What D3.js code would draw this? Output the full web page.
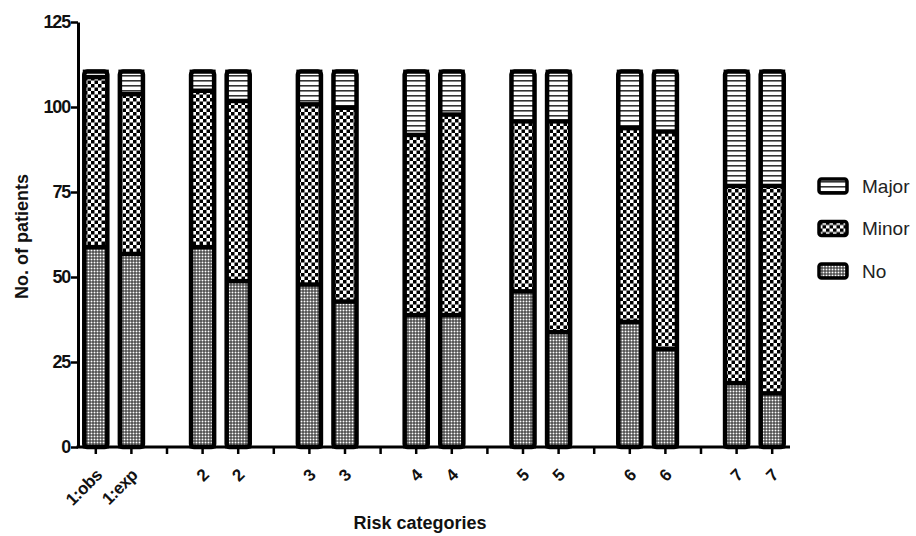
<!DOCTYPE html>
<html>
<head>
<meta charset="utf-8">
<script src="https://cdn.jsdelivr.net/npm/d3@7"></script>
<style>
  body { margin: 0; background: #fff; }
  svg { font-family: "Liberation Sans", Arial, sans-serif; }
</style>
</head>
<body>
<svg id="chart" width="916" height="536"></svg>
<script>
// values (all bars total 111 patients)
const labels = ["1:obs", "1:exp", "2", "2", "3", "3", "4", "4", "5", "5", "6", "6", "7", "7"];
const noValues = [59, 57, 59, 49, 48, 43, 39, 39, 46, 34, 37, 29, 19, 16];
const minorValues = [50, 47, 46, 53, 53, 57, 53, 59, 50, 62, 57, 64, 58, 61];
const majorValues = [2, 7, 6, 9, 10, 11, 19, 13, 15, 15, 17, 18, 34, 34];
const seriesNames = ["No", "Minor", "Major"];
const yTicks = [0, 25, 50, 75, 100, 125];

const svg = d3.select("#chart");
const plotLeft = 78, plotRight = 790, plotTop = 22, plotBottom = 447;

// 2 bars per category, one empty slot between pairs
const slots = d3.range(20).map(i => "s" + i);
const slotOf = i => "s" + (i + Math.floor(i / 2));

const x = d3.scaleBand().domain(slots).range([plotLeft, plotRight]).paddingInner(0.24).paddingOuter(0.12);
const y = d3.scaleLinear().domain([0, 125]).range([plotBottom, plotTop]);

// patterns
const defs = svg.append("defs");
const pMajor = defs.append("pattern").attr("id", "p-major")
  .attr("patternUnits", "userSpaceOnUse").attr("width", 6).attr("height", 5);
pMajor.append("rect").attr("width", 6).attr("height", 5).attr("fill", "#fff");
pMajor.append("rect").attr("y", 0).attr("width", 6).attr("height", 1.6).attr("fill", "#333");

const pMinor = defs.append("pattern").attr("id", "p-minor")
  .attr("patternUnits", "userSpaceOnUse").attr("width", 7).attr("height", 7);
pMinor.append("rect").attr("width", 7).attr("height", 7).attr("fill", "#fff");
pMinor.append("rect").attr("width", 3.5).attr("height", 3.5).attr("fill", "#000");
pMinor.append("rect").attr("x", 3.5).attr("y", 3.5).attr("width", 3.5).attr("height", 3.5).attr("fill", "#000");

const pNo = defs.append("pattern").attr("id", "p-no")
  .attr("patternUnits", "userSpaceOnUse").attr("width", 3).attr("height", 3);
pNo.append("rect").attr("width", 3).attr("height", 3).attr("fill", "#222");
pNo.append("rect").attr("x", 0.5).attr("y", 0.5).attr("width", 2).attr("height", 2).attr("fill", "#fff");

const fills = { No: "url(#p-no)", Minor: "url(#p-minor)", Major: "url(#p-major)" };

const rows = labels.map((l, i) => ({ key: slotOf(i), label: l, No: noValues[i], Minor: minorValues[i], Major: majorValues[i] }));
const stacked = d3.stack().keys(seriesNames)(rows);

const bw = x.bandwidth();

svg.append("g").selectAll("g")
  .data(stacked)
  .join("g")
  .attr("fill", d => fills[d.key])
  .selectAll("rect")
  .data(d => d)
  .join("rect")
  .attr("x", d => x(d.data.key) + 2)
  .attr("y", d => y(d[1]) + 1.5)
  .attr("width", bw - 4)
  .attr("height", d => Math.max(0, y(d[0]) - y(d[1]) - 1.5))
  .attr("stroke", "#000")
  .attr("stroke-width", 3);

// thick outline around each bar
svg.append("g").selectAll("rect")
  .data(rows)
  .join("rect")
  .attr("x", d => x(d.key) + 2)
  .attr("y", d => y(d.No + d.Minor + d.Major) + 2)
  .attr("width", bw - 4)
  .attr("height", d => y(0) - y(d.No + d.Minor + d.Major) - 2)
  .attr("rx", 3)
  .attr("fill", "none")
  .attr("stroke", "#000")
  .attr("stroke-width", 4.5);

// y axis
const yAxis = svg.append("g").attr("transform", `translate(${plotLeft},0)`)
  .call(d3.axisLeft(y).tickValues(yTicks).tickSize(7).tickPadding(1).tickSizeOuter(0));
yAxis.select(".domain").attr("stroke-width", 3);
yAxis.selectAll(".tick line").attr("stroke-width", 2.5);
yAxis.selectAll("text").attr("font-size", 18).attr("font-weight", "bold")
  .attr("fill", "#111").attr("font-family", "Liberation Sans, Arial, sans-serif")
  .attr("letter-spacing", -1.2);

// x axis
const xAxis = svg.append("g").attr("transform", `translate(0,${plotBottom})`)
  .call(d3.axisBottom(x).tickSize(7).tickSizeOuter(0).tickFormat(""));
xAxis.select(".domain").attr("stroke-width", 3)
  .attr("d", `M${plotLeft - 1.5},0H${plotRight}`);
xAxis.selectAll(".tick line").attr("stroke-width", 2.5).attr("y1", 1);

svg.append("g").selectAll("text")
  .data(rows)
  .join("text")
  .attr("transform", d => `translate(${x(d.key) + bw / 2 + 3},${plotBottom + 25}) rotate(-45)`)
  .attr("text-anchor", "end")
  .attr("dy", "0.35em")
  .attr("font-size", 17)
  .attr("font-weight", "bold")
  .attr("letter-spacing", -0.5)
  .attr("fill", "#111")
  .text(d => d.label);

// axis titles
svg.append("text")
  .attr("transform", `translate(28,${(plotTop + plotBottom) / 2 + 2}) rotate(-90)`)
  .attr("text-anchor", "middle")
  .attr("font-size", 18)
  .attr("font-weight", "bold")
  .attr("fill", "#111")
  .text("No. of patients");

svg.append("text")
  .attr("x", 420)
  .attr("y", 529)
  .attr("text-anchor", "middle")
  .attr("font-size", 18)
  .attr("font-weight", "bold")
  .attr("fill", "#111")
  .text("Risk categories");

// legend
const legend = svg.append("g").attr("transform", "translate(819,186)");
const legendItems = legend.selectAll("g")
  .data(["Major", "Minor", "No"])
  .join("g")
  .attr("transform", (d, i) => `translate(0,${i * 42.5})`);

legendItems.append("rect")
  .attr("x", 0).attr("y", -7)
  .attr("width", 28).attr("height", 14)
  .attr("rx", 2.5)
  .attr("fill", d => fills[d])
  .attr("stroke", "#000")
  .attr("stroke-width", 3.5);

legendItems.append("text")
  .attr("x", 43)
  .attr("dy", "0.36em")
  .attr("font-size", 19)
  .attr("fill", "#222")
  .text(d => d);
</script>
</body>
</html>
